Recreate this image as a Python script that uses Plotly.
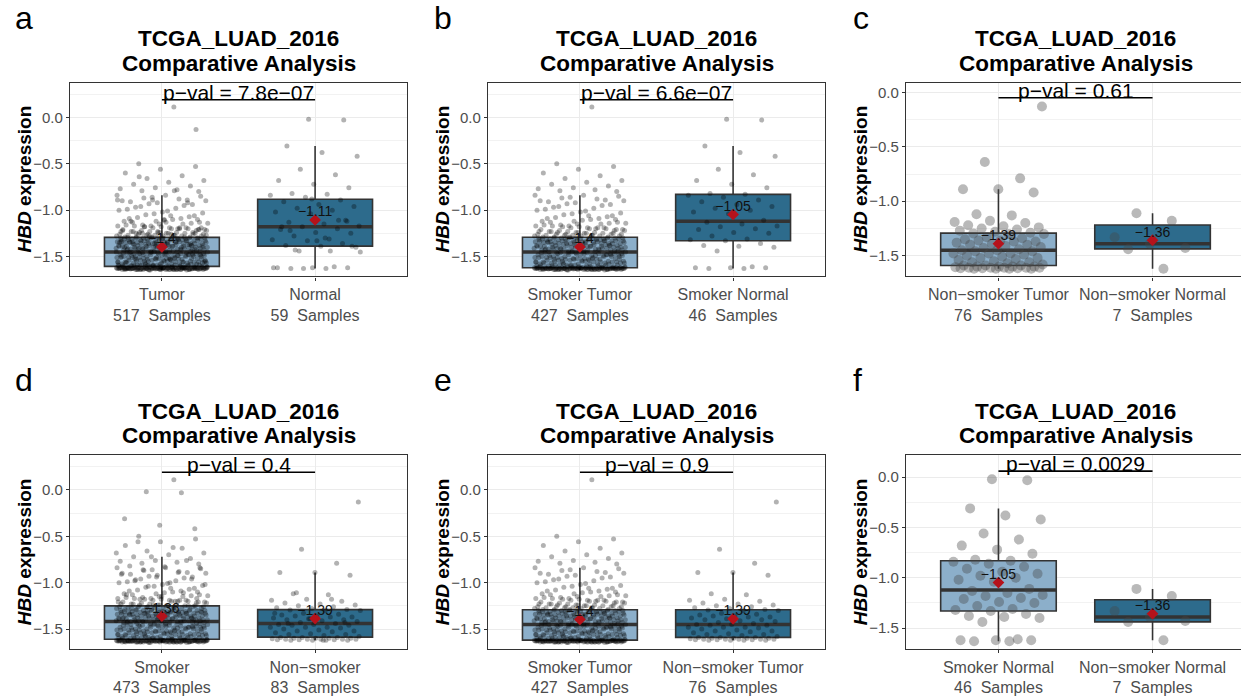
import numpy as np
import plotly.graph_objects as go

# ---------------- data (HBD expression values) ----------------
smoker_tumor = [
    # floor cluster
    -1.63, -1.64, -1.62, -1.63, -1.635, -1.64, -1.63, -1.62, -1.625, -1.63, -1.64, -1.63,
    -1.62, -1.63, -1.64, -1.635, -1.63, -1.62, -1.63, -1.645, -1.63, -1.62, -1.64, -1.63,
    -1.625, -1.64, -1.63, -1.62, -1.63, -1.64, -1.635, -1.62, -1.63, -1.63, -1.64, -1.62,
    -1.63, -1.62, -1.64, -1.63, -1.625, -1.63, -1.64, -1.62, -1.63, -1.635, -1.62, -1.64,
    -1.63, -1.64, -1.62, -1.63, -1.63, -1.645, -1.62, -1.63, -1.64, -1.625, -1.63, -1.62,
    -1.64, -1.63, -1.62, -1.635, -1.63, -1.64, -1.62, -1.63, -1.62, -1.64, -1.63, -1.625,
    -1.63, -1.62, -1.64, -1.63, -1.64, -1.62, -1.635, -1.63, -1.62, -1.63, -1.64, -1.63,
    -1.62, -1.63, -1.645, -1.63, -1.62, -1.64, -1.63, -1.625, -1.64, -1.63, -1.62, -1.63,
    -1.64, -1.62, -1.63, -1.635, -1.62, -1.63, -1.64, -1.63, -1.62, -1.625, -1.63, -1.62,
    # lower half of box
    -1.61, -1.57, -1.54, -1.53, -1.48, -1.46, -1.60, -1.58, -1.55, -1.50, -1.47, -1.45,
    -1.59, -1.60, -1.56, -1.52, -1.51, -1.47, -1.61, -1.57, -1.56, -1.53, -1.49, -1.46,
    -1.60, -1.58, -1.53, -1.51, -1.49, -1.46, -1.59, -1.55, -1.54, -1.50, -1.48, -1.45,
    -1.61, -1.59, -1.56, -1.52, -1.50, -1.47, -1.58, -1.57, -1.55, -1.51, -1.48, -1.45,
    -1.60, -1.56, -1.54, -1.52, -1.49, -1.46, -1.61, -1.59, -1.55, -1.53, -1.50, -1.47,
    -1.59, -1.58, -1.53, -1.52, -1.48, -1.45, -1.60, -1.57, -1.54, -1.51, -1.49, -1.46,
    -1.61, -1.58, -1.56, -1.53, -1.50, -1.47, -1.60, -1.57, -1.55, -1.52, -1.48, -1.45,
    -1.59, -1.56, -1.54, -1.51, -1.49, -1.46, -1.61, -1.58, -1.55, -1.50, -1.47, -1.46,
    -1.60, -1.57, -1.53, -1.52, -1.49, -1.48, -1.59, -1.56, -1.51, -1.47,
    # upper half of box
    -1.44, -1.41, -1.39, -1.36, -1.33, -1.30, -1.43, -1.40, -1.38, -1.35, -1.32, -1.31,
    -1.42, -1.44, -1.37, -1.34, -1.33, -1.30, -1.41, -1.39, -1.38, -1.36, -1.32, -1.31,
    -1.43, -1.42, -1.40, -1.35, -1.34, -1.30, -1.44, -1.39, -1.37, -1.36, -1.33, -1.31,
    -1.42, -1.41, -1.38, -1.35, -1.32, -1.30, -1.43, -1.40, -1.39, -1.34, -1.33, -1.31,
    -1.44, -1.42, -1.37, -1.36, -1.34, -1.30, -1.41, -1.40, -1.38, -1.35, -1.32, -1.31,
    -1.43, -1.39, -1.37, -1.36, -1.33, -1.30, -1.42, -1.41, -1.38, -1.34, -1.32, -1.31,
    -1.44, -1.40, -1.39, -1.35, -1.33, -1.30, -1.43, -1.42, -1.37, -1.36, -1.34, -1.31,
    -1.41, -1.40, -1.38, -1.35, -1.32, -1.30, -1.44, -1.43, -1.39, -1.36, -1.33, -1.31,
    -1.42, -1.38, -1.37, -1.34, -1.32, -1.30, -1.41, -1.39, -1.35, -1.33,
    # above the box, up to the whisker
    -1.29, -1.28, -1.27, -1.26, -1.25, -1.24, -1.29, -1.28, -1.27, -1.26, -1.25, -1.23,
    -1.29, -1.27, -1.26, -1.24, -1.22, -1.21, -1.28, -1.27, -1.25, -1.23, -1.22, -1.20,
    -1.29, -1.26, -1.24, -1.21, -1.19, -1.18, -1.28, -1.25, -1.23, -1.20, -1.19, -1.17,
    -1.27, -1.24, -1.22, -1.18, -1.16, -1.15, -1.26, -1.21, -1.19, -1.17, -1.14, -1.12,
    -1.23, -1.20, -1.16, -1.13, -1.11, -1.09, -1.19, -1.17, -1.14, -1.10, -1.08, -1.06,
    -1.15, -1.12, -1.09, -1.05, -1.03, -1.01, -1.13, -1.07, -1.04, -1.00, -0.98, -0.96,
    -1.10, -1.02, -0.99, -0.95, -0.93, -0.90, -1.06, -0.97, -0.94, -0.92, -0.90, -0.88,
    -0.87, -0.85, -0.84, -0.91, -0.89, -0.86, -0.84,
    # outliers
    0.11, -0.50, -0.53, -0.56, -0.60, -0.63, -0.66, -0.68, -0.70, -0.72, -0.74, -0.76,
    -0.77, -0.78, -0.79, -0.80,
]

nonsmoker_tumor = [
    -1.62, -1.62, -1.62, -1.62, -1.615, -1.615, -1.615, -1.61, -1.61, -1.61, -1.61, -1.61, -1.605, -1.60,
    -1.60, -1.60, -1.60, -1.59, -1.59, -1.59,
    -1.58, -1.57, -1.56, -1.56, -1.55, -1.54, -1.53, -1.52, -1.52, -1.51, -1.50, -1.49, -1.48, -1.48,
    -1.48, -1.46, -1.46,
    -1.45, -1.45,
    -1.44, -1.43, -1.42, -1.41, -1.40, -1.40, -1.39, -1.38, -1.37, -1.36, -1.37, -1.36, -1.35, -1.34,
    -1.33, -1.30, -1.30,
    -1.295, -1.29,
    -1.28, -1.27, -1.26, -1.25, -1.24, -1.23, -1.22, -1.20, -1.18, -1.19, -1.13, -1.12, -0.92, -0.89, -0.89,
    -0.79, -0.64, -0.13,
]

smoker_normal = [
    -1.63, -1.63, -1.62, -1.62, -1.62, -1.61, -1.44, -1.40, -1.39, -1.38, -1.36, -1.33,
    -1.32, -1.31, -1.28, -1.25, -1.24, -1.21, -1.20, -1.18, -1.17, -1.15, -1.13, -1.11,
    -1.04, -1.02, -1.00, -0.98, -0.96, -0.94, -0.91, -0.89, -0.86, -0.84, -0.83, -0.82,
    -0.76, -0.72, -0.68, -0.62, -0.56, -0.42, -0.38, -0.31, -0.03, -0.02,
]

nonsmoker_normal = [-1.62, -1.44, -1.43, -1.39, -1.33, -1.18, -1.11]

unknown_tumor = [-1.64, -1.63, -1.62, -1.60, -1.56, -1.51, -1.47, -1.44, -1.39, -1.34,
                 -1.30, -1.25, -1.21, -1.10]

unknown_normal = [-1.63, -1.45, -1.30, -1.22, -1.12, -0.88]

tumor = smoker_tumor + nonsmoker_tumor + unknown_tumor
normal = smoker_normal + nonsmoker_normal + unknown_normal
smoker = smoker_tumor + smoker_normal
nonsmoker = nonsmoker_tumor + nonsmoker_normal

panel_letters = ["a", "b", "c", "d", "e", "f"]
panel_groups = [
    [("Tumor", tumor), ("Normal", normal)],
    [("Smoker Tumor", smoker_tumor), ("Smoker Normal", smoker_normal)],
    [("Non\u2212smoker Tumor", nonsmoker_tumor), ("Non\u2212smoker Normal", nonsmoker_normal)],
    [("Smoker", smoker), ("Non\u2212smoker", nonsmoker)],
    [("Smoker Tumor", smoker_tumor), ("Non\u2212smoker Tumor", nonsmoker_tumor)],
    [("Smoker Normal", smoker_normal), ("Non\u2212smoker Normal", nonsmoker_normal)],
]
p_values = ["7.8e\u221207", "6.6e\u221207", "0.61", "0.4", "0.9", "0.0029"]
title_lines = ["TCGA_LUAD_2016", "Comparative Analysis"]
y_ticks = [0.0, -0.5, -1.0, -1.5]
y_minor = [0.25, -0.25, -0.75, -1.25]

# ---------------- layout / style ----------------
W, H = 1241, 696
FONT = "Liberation Sans, Arial, Helvetica, sans-serif"
BOX_FILL = ["#8CAFCA", "#2D6B8C"]
LINE = "#333333"
GRID = "#EBEBEB"
col_px = [(70, 407), (488, 825), (906, 1245)]
row_px = [(83, 278), (458, 653)]
letter_x = [13, 432, 851]
letter_mid = [18, 382]
title_mid = [(39, 64), (414, 438)]
ytitle_gap = 46
y_ranges = [[-1.714, 0.375], [-1.714, 0.375], [-1.69, 0.09],
            [-1.718, 0.372], [-1.718, 0.372], [-1.71, 0.217]]
point_size = [5, 5, 10, 5, 5, 10]
point_color = ["rgba(0,0,0,0.30)"] * 2 + ["rgba(70,70,70,0.38)"] + ["rgba(0,0,0,0.30)"] * 2 + ["rgba(70,70,70,0.38)"]
BOX_W = 0.75
JITTER_W = 0.6
GOLDEN = 0.6180339887498949


def fmt(v):
    s = f"{round(v, 2):g}"
    return s.replace("-", "\u2212")


def jitter_offsets(n):
    # deterministic, evenly spread horizontal offsets (low-discrepancy sequence)
    return np.array([(((i + 1) * GOLDEN) % 1.0) - 0.5 for i in range(n)]) * JITTER_W


fig = go.Figure()
annotations = []
layout_axes = {}

for i in range(6):
    k = i + 1
    r, c = divmod(i, 3)
    xname = "x" if k == 1 else f"x{k}"
    yname = "y" if k == 1 else f"y{k}"
    x0, x1 = col_px[c]
    top, bot = row_px[r]
    x1c = min(x1, W)
    xr_right = 0.4 + (x1c - x0) / (x1 - x0) * 2.2
    dom_x = [x0 / W, x1c / W]
    dom_y = [1 - bot / H, 1 - top / H]

    groups = panel_groups[i]
    allvals = []
    for j, (name, vals) in enumerate(groups):
        pos = j + 1
        allvals += vals
        # box + whiskers (1.5 IQR fences); sample points drawn separately
        fig.add_trace(go.Box(
            x=[pos] * len(vals), y=vals, xaxis=xname, yaxis=yname,
            width=BOX_W, boxpoints="outliers",
            fillcolor=BOX_FILL[j], line=dict(color=LINE, width=1.6), whiskerwidth=0,
            marker=dict(color="rgba(0,0,0,0)", size=1, line=dict(width=0)),
            hoverinfo="skip", showlegend=False,
        ))
        med = float(np.median(vals))
        fig.add_trace(go.Scatter(
            x=[pos - BOX_W / 2, pos + BOX_W / 2], y=[med, med], xaxis=xname, yaxis=yname,
            mode="lines", line=dict(color=LINE, width=3.5), hoverinfo="skip", showlegend=False,
        ))
        fig.add_trace(go.Scatter(
            x=pos + jitter_offsets(len(vals)), y=vals, xaxis=xname, yaxis=yname,
            mode="markers",
            marker=dict(color=point_color[i], size=point_size[i], line=dict(width=0)),
            hoverinfo="skip", showlegend=False,
        ))
        mean = float(np.mean(vals))
        fig.add_trace(go.Scatter(
            x=[pos], y=[mean], xaxis=xname, yaxis=yname, mode="markers",
            marker=dict(symbol="diamond", size=9, color="#B5121B", line=dict(width=0)),
            hoverinfo="skip", showlegend=False,
        ))
        fig.add_trace(go.Scatter(
            x=[pos], y=[mean], xaxis=xname, yaxis=yname, mode="text",
            text=[fmt(mean)], textposition="top center",
            textfont=dict(family=FONT, size=14, color="#111111"),
            hoverinfo="skip", showlegend=False,
        ))

    # p-value bracket
    yb = max(allvals) + 0.08
    fig.add_trace(go.Scatter(
        x=[1, 2], y=[yb, yb], xaxis=xname, yaxis=yname, mode="lines",
        line=dict(color="black", width=1.6), hoverinfo="skip", showlegend=False,
    ))
    annotations.append(dict(
        xref=xname, yref=yname, x=1.5, y=yb, text=f"p\u2212val = {p_values[i]}",
        showarrow=False, xanchor="center", yanchor="bottom", yshift=-6,
        font=dict(family=FONT, size=21, color="black"),
    ))

    ticktext = [f"{name}<br>{len(vals)}\u00a0 Samples" for name, vals in groups]
    layout_axes["xaxis" if k == 1 else f"xaxis{k}"] = dict(
        domain=dom_x, anchor=yname, range=[0.4, xr_right],
        tickvals=[1, 2], ticktext=ticktext, showgrid=True, gridcolor=GRID, gridwidth=1.2,
        zeroline=False, showline=True, linecolor=LINE, linewidth=1.2, mirror=True,
        ticks="outside", ticklen=3, tickcolor=LINE,
        tickfont=dict(family=FONT, size=16, color="#4D4D4D"),
    )
    layout_axes["yaxis" if k == 1 else f"yaxis{k}"] = dict(
        domain=dom_y, anchor=xname, range=y_ranges[i],
        tickvals=y_ticks, ticktext=[f"{v:.1f}".replace("-", "\u2212") for v in y_ticks],
        showgrid=True, gridcolor=GRID, gridwidth=1.2, zeroline=False,
        minor=dict(tickvals=y_minor, showgrid=True, gridcolor="#F2F2F2", gridwidth=0.8, ticks=""),
        showline=True, linecolor=LINE, linewidth=1.2, mirror=(c != 2),
        ticks="outside", ticklen=3, tickcolor=LINE,
        tickfont=dict(family=FONT, size=15, color="#4D4D4D"),
    )
    # y-axis title
    annotations.append(dict(
        xref="paper", yref="paper", x=(x0 - ytitle_gap) / W, y=1 - (top + bot) / 2 / H,
        text="<b><i>HBD</i> expression</b>", textangle=-90, showarrow=False,
        xanchor="center", yanchor="middle", font=dict(family=FONT, size=19, color="black"),
    ))
    # panel letter
    annotations.append(dict(
        xref="paper", yref="paper", x=letter_x[c] / W, y=1 - letter_mid[r] / H,
        text=panel_letters[i], showarrow=False, xanchor="left", yanchor="middle",
        font=dict(family=FONT, size=32, color="black"),
    ))
    # title
    cx = (x0 + x1) / 2
    for line_text, ym in zip(title_lines, title_mid[r]):
        annotations.append(dict(
            xref="paper", yref="paper", x=cx / W, y=1 - ym / H,
            text=f"<b>{line_text}</b>", showarrow=False, xanchor="center", yanchor="middle",
            font=dict(family=FONT, size=22.5, color="black"),
        ))

fig.update_layout(
    width=W, height=H, margin=dict(l=0, r=0, t=0, b=0),
    paper_bgcolor="white", plot_bgcolor="white", showlegend=False,
    boxmode="overlay", annotations=annotations, font=dict(family=FONT),
    **layout_axes,
)

fig.write_html("out.html")
